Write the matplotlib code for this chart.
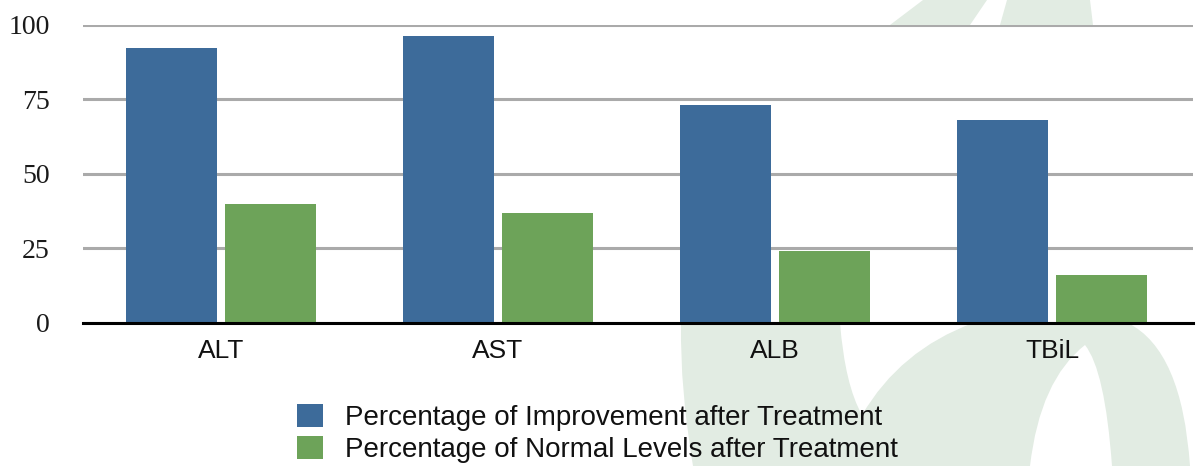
import matplotlib
matplotlib.use("Agg")
import matplotlib.pyplot as plt
from matplotlib.path import Path
from matplotlib.patches import PathPatch
import numpy as np

# ---- data ----
categories = ["ALT", "AST", "ALB", "TBiL"]
improvement = [92, 96, 73, 68]
normal_levels = [40, 37, 24, 16]
series_labels = ["Percentage of Improvement after Treatment",
                 "Percentage of Normal Levels after Treatment"]
y_ticks = [0, 25, 50, 75, 100]

BLUE = "#3d6b9a"
GREEN = "#6da359"
LEAF = "#e2ece3"

W, H = 1196, 466
fig = plt.figure(figsize=(W / 100, H / 100), dpi=100)
fig.patch.set_facecolor("white")


def px(x, y):
    """pixel (from top-left) -> figure fraction"""
    return (x / W, 1 - y / H)


def leaf_patch(verts, codes):
    path = Path([px(*v) for v in verts], codes)
    patch = PathPatch(path, facecolor=LEAF, edgecolor="none",
                      transform=fig.transFigure, zorder=0)
    fig.patches.append(patch)


M, L, C3, CL = Path.MOVETO, Path.LINETO, Path.CURVE3, Path.CLOSEPOLY

# faint leaf watermark behind the chart
leaf_patch([(890, 25), (923, 0), (987, 0), (970, 25), (890, 25)],
           [M, L, L, L, CL])
leaf_patch([(1000, 25), (1007, 0), (1090, 0), (1093, 25), (1000, 25)],
           [M, L, L, L, CL])
leaf_patch([
    (681, 323), (840, 323),
    (845, 385), (862, 415),
    (900, 350), (973, 323),
    (1128, 323),
    (1182, 350), (1190, 466),
    (1112, 466),
    (1105, 370), (1085, 345),
    (1040, 380), (1030, 466),
    (693, 466),
    (680, 390), (681, 323),
    (681, 323)],
    [M, L, C3, C3, C3, C3, L, C3, C3, L, C3, C3, C3, C3, L, C3, C3, CL])

ax = fig.add_axes([83 / W, 1 - 323 / H, 1110 / W, 298.5 / H])
ax.set_facecolor("white")
ax.set_zorder(1)

x = np.arange(len(categories))
bw = 0.3285
off = 0.1787
b1 = ax.bar(x - off, improvement, bw, color=BLUE, zorder=3,
            label=series_labels[0])
b2 = ax.bar(x + off, normal_levels, bw, color=GREEN, zorder=3,
            label=series_labels[1])

ax.set_xlim(-0.498, 3.509)
ax.set_ylim(0, 100)
ax.set_yticks(y_ticks)
ax.set_yticklabels([str(t) for t in y_ticks], family="Liberation Serif",
                   fontsize=20, color="#1a1a1a")
ax.set_xticks(x)
ax.set_xticklabels(categories, family="Liberation Sans", fontsize=19,
                   color="#111111")
ax.tick_params(axis="y", length=0, pad=24)
ax.tick_params(axis="x", length=0, pad=11.5)

ax.yaxis.grid(True, color="#aaaaaa", linewidth=2.2, zorder=1)
ax.set_axisbelow(True)
for s in ("left", "right", "top"):
    ax.spines[s].set_visible(False)
ax.spines["bottom"].set_color("black")
ax.spines["bottom"].set_linewidth(2.2)
ax.spines["bottom"].set_zorder(4)

leg = fig.legend(handles=[b1, b2], labels=series_labels,
                 loc="upper left", bbox_to_anchor=px(297, 404),
                 frameon=False, borderpad=0, borderaxespad=0,
                 handlelength=0.94, handleheight=0.9, handletextpad=0.78,
                 labelspacing=0.18,
                 prop={"family": "Liberation Sans", "size": 20})
for t in leg.get_texts():
    t.set_color("#111111")

fig.savefig("out.png", dpi=100, facecolor="white")
